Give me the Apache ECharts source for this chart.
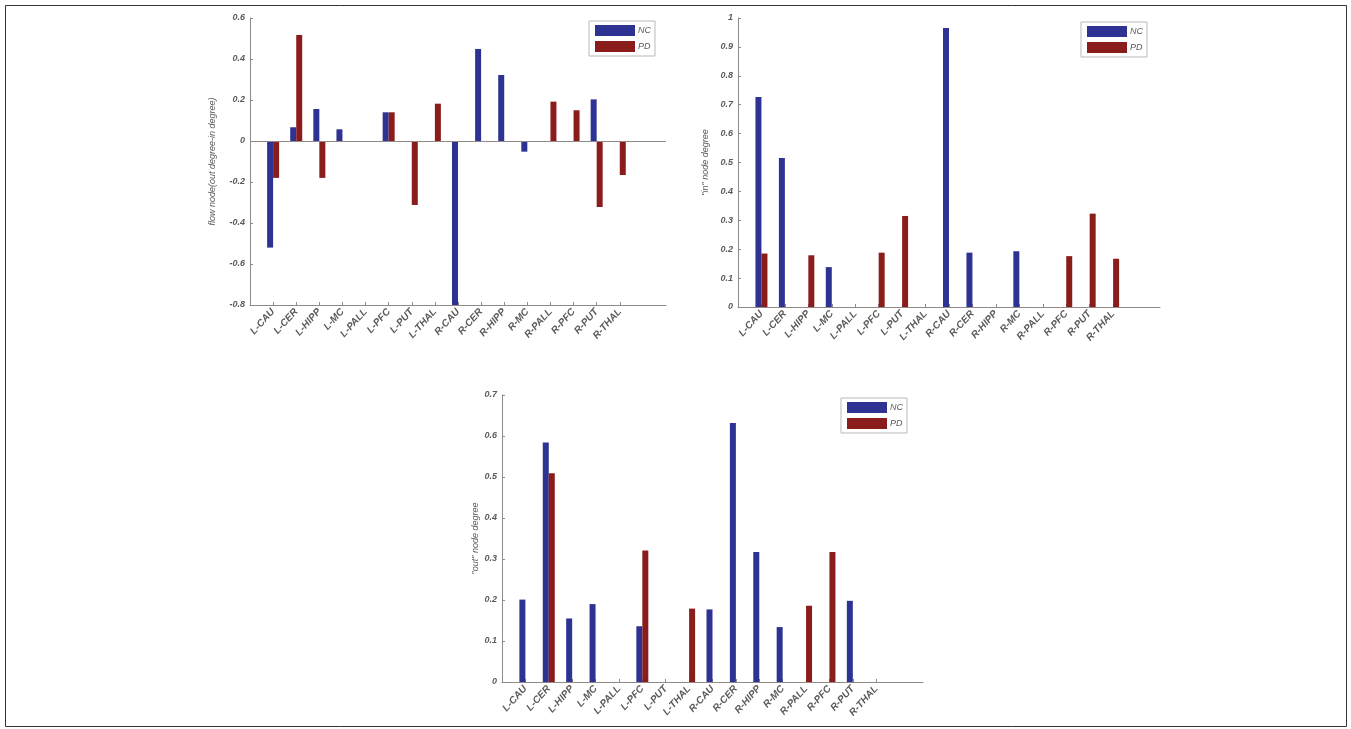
<!DOCTYPE html>
<html>
<head>
<meta charset="utf-8">
<script src="https://cdn.jsdelivr.net/npm/echarts@6/dist/echarts.min.js"></script>
<style>
html,body{margin:0;padding:0;background:#fff;}
#chart{width:1351px;height:729px;}
</style>
</head>
<body>
<div id="chart"></div>
<script>
const categories = ["L-CAU","L-CER","L-HIPP","L-MC","L-PALL","L-PFC","L-PUT","L-THAL","R-CAU","R-CER","R-HIPP","R-MC","R-PALL","R-PFC","R-PUT","R-THAL"];
const seriesNames = ["NC","PD"];
const flowNC = [-0.52,0.067,0.156,0.057,0,0.14,0,0,-0.80,0.449,0.322,-0.052,0,0,0.203,0];
const flowPD = [-0.18,0.517,-0.18,0,0,0.14,-0.312,0.182,0,0,0,0,0.192,0.15,-0.322,-0.166];
const inNC = [0.727,0.516,0,0.138,0,0,0,0,0.965,0.188,0,0.193,0,0,0,0];
const inPD = [0.185,0,0.179,0,0,0.188,0.315,0,0,0,0,0,0,0.176,0.323,0.167];
const outNC = [0.201,0.584,0.155,0.19,0,0.136,0,0,0.177,0.632,0.317,0.134,0,0,0.198,0];
const outPD = [0,0.509,0,0,0,0.321,0,0.179,0,0,0,0,0.186,0.317,0,0];
const yAxisNames = ["flow node(out degree-in degree)", "\"in\" node degree", "\"out\" node degree"];
const yRanges = [[-0.8,0.6,0.2],[0,1,0.1],[0,0.7,0.1]];

const colors = ["#2e3293","#8b1c1c"];
const axisCol = "#8f8a86";
const txtCol = "#5a5a5a";
// xlim [0,18]: pad categories so ticks fall at 1..16
const padded = [""].concat(categories, ["",""]);
const pad = arr => [null].concat(arr, [null, null]);

const grids = [
  {left:250, top:18, width:416, height:287},
  {left:738, top:18, width:422, height:289},
  {left:502, top:395, width:421, height:287}
];
const nameGaps = [33, 28, 22];
const legendPos = [{left:589, top:21},{left:1081, top:22},{left:841, top:398}];
const dataSets = [[flowNC,flowPD],[inNC,inPD],[outNC,outPD]];

const xAxis = [], yAxis = [], series = [], legend = [];
grids.forEach((g,i) => {
  xAxis.push({
    type:'category', gridIndex:i, data:padded, boundaryGap:false,
    axisLine:{onZero:false, lineStyle:{color:axisCol, width:1}},
    axisTick:{inside:true, length:3, lineStyle:{color:axisCol}, interval:(idx)=> idx>=1 && idx<=16},
    axisLabel:{rotate:48, interval:0, fontSize:10, fontStyle:'italic', fontWeight:'bold', color:txtCol, margin:5, fontFamily:'Liberation Sans'},
    splitLine:{show:false}
  });
  yAxis.push({
    type:'value', gridIndex:i, min:yRanges[i][0], max:yRanges[i][1], interval:yRanges[i][2],
    name:yAxisNames[i], nameLocation:'middle', nameRotate:90, nameGap:nameGaps[i],
    nameTextStyle:{fontSize:9, fontStyle:'italic', color:txtCol, fontFamily:'Liberation Sans'},
    axisLine:{show:true, lineStyle:{color:axisCol, width:1}},
    axisTick:{show:true, inside:true, length:3, lineStyle:{color:axisCol}},
    axisLabel:{fontSize:9, fontStyle:'italic', fontWeight:'bold', color:txtCol, margin:5, fontFamily:'Liberation Sans', formatter:v => String(+v.toFixed(1))},
    splitLine:{show:false}
  });
  seriesNames.forEach((n,k) => {
    const s = {
      type:'bar', name:n, xAxisIndex:i, yAxisIndex:i, data:pad(dataSets[i][k]),
      barWidth:6, barGap:'0%', itemStyle:{color:colors[k]}, silent:true
    };
    if (i === 0 && k === 1) {
      s.markLine = {silent:true, symbol:'none', label:{show:false},
        lineStyle:{color:axisCol, width:1, type:'solid'}, data:[{yAxis:0}], animation:false};
    }
    series.push(s);
  });
  legend.push({
    data:seriesNames, orient:'vertical', left:legendPos[i].left, top:legendPos[i].top,
    itemWidth:40, itemHeight:11, itemGap:5, icon:'rect',
    padding:[4,4,4,6], borderColor:'#b9b9b9', borderWidth:1, backgroundColor:'#fff',
    textStyle:{fontSize:9, fontStyle:'italic', color:txtCol, padding:[0,0,0,-2], fontFamily:'Liberation Sans'},
    selectedMode:false
  });
});

const chart = echarts.init(document.getElementById('chart'));
chart.setOption({
  animation:false,
  backgroundColor:'#fff',
  color:colors,
  grid:grids,
  xAxis, yAxis, series, legend,
  graphic:[{type:'rect', shape:{x:5.5, y:5.5, width:1341, height:721}, style:{fill:'none', stroke:'#333', lineWidth:1}, silent:true}]
});
</script>
</body>
</html>
